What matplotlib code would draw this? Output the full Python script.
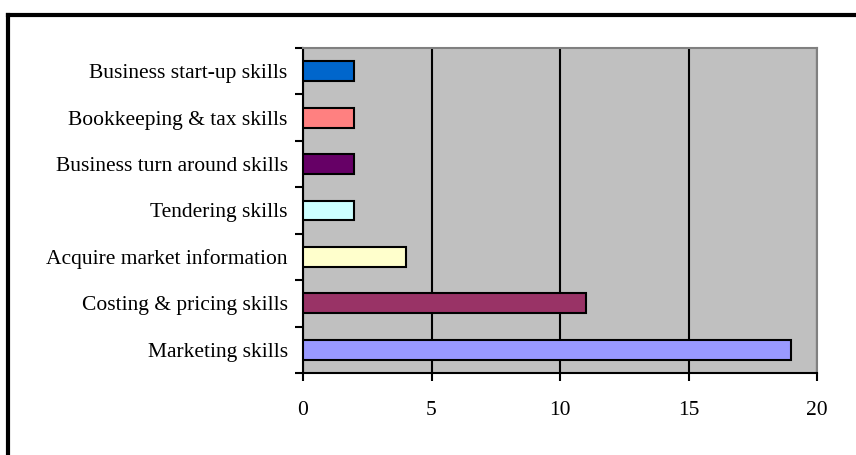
import matplotlib.pyplot as plt
from matplotlib.lines import Line2D

categories = ["Marketing skills", "Costing & pricing skills", "Acquire market information",
              "Tendering skills", "Business turn around skills", "Bookkeeping & tax skills",
              "Business start-up skills"]
values = [19, 11, 4, 2, 2, 2, 2]
colors = ["#9999FF", "#993366", "#FFFFCC", "#CCFFFF", "#660066", "#FF8080", "#0066CC"]

plt.rcParams["font.family"] = ["Liberation Serif", "DejaVu Serif"]

fig = plt.figure(figsize=(8.56, 4.55), dpi=100)
W, H = 856, 455
ax = fig.add_axes([303 / W, 1 - 373 / H, (817 - 303) / W, (373 - 48) / H])
ax.set_facecolor("#C0C0C0")

ypos = list(range(len(categories)))
ax.barh(ypos, values, height=0.43, color=colors, edgecolor="black", linewidth=1.5, zorder=3)

ax.set_xlim(0, 20)
ax.set_ylim(-0.5, len(categories) - 0.5)
ax.set_xticks([0, 5, 10, 15, 20])
ax.xaxis.grid(True, color="black", linewidth=1.5, zorder=1)
ax.set_axisbelow(True)

ax.set_yticks([y - 0.5 for y in range(len(categories) + 1)])
ax.set_yticklabels([])
ax.set_yticks(ypos, minor=True)
ax.set_yticklabels(categories, minor=True, fontsize=15.5)
ax.tick_params(axis="y", which="minor", length=0, pad=11)
ax.tick_params(axis="y", which="major", length=6, width=1.5, direction="out")
ax.tick_params(axis="x", length=6, width=1.5, direction="out", labelsize=15.5, pad=14)

for s in ["left", "bottom"]:
    ax.spines[s].set_linewidth(1.5)
    ax.spines[s].set_color("black")
for s in ["top", "right"]:
    ax.spines[s].set_linewidth(1.5)
    ax.spines[s].set_color("#808080")

# outer chart border (top and left visible)
fig.add_artist(Line2D([8 / W, 1], [1 - 15 / H, 1 - 15 / H], color="black", linewidth=3,
                      transform=fig.transFigure))
fig.add_artist(Line2D([8 / W, 8 / W], [0, 1 - 15 / H], color="black", linewidth=3,
                      transform=fig.transFigure))

fig.savefig("out.png", dpi=100)
